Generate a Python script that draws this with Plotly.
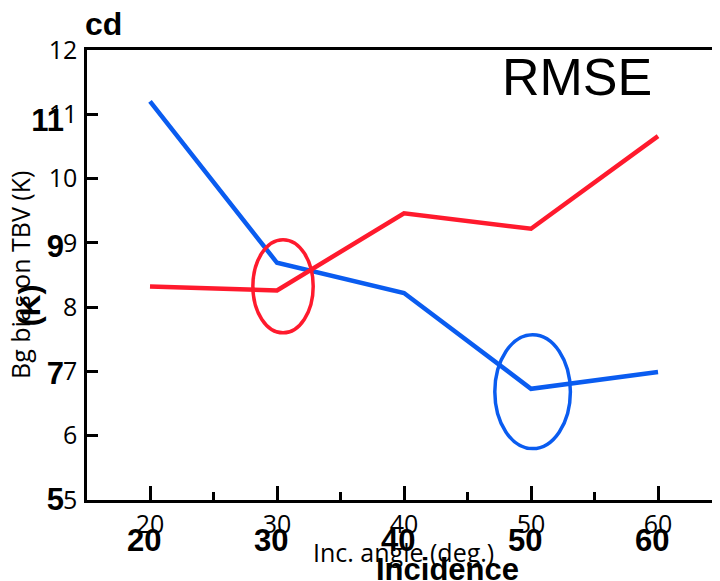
import plotly.graph_objects as go

angles = [20, 30, 40, 50, 60]
blue_vals = [11.2, 8.69, 8.22, 6.73, 6.99]
red_vals = [8.32, 8.26, 9.46, 9.22, 10.66]

y_ticks = [5, 6, 7, 8, 9, 10, 11, 12]
y_bold_ticks = [5, 7, 9, 11]
x_ticks = [20, 30, 40, 50, 60]

# highlight ellipses (data coords): x0, x1, y0, y1
red_ellipse = [28.1, 32.85, 7.6, 9.05]
blue_ellipse = [47.15, 53.1, 5.8, 7.57]

RED = "#ff1a2d"
BLUE = "#0a5cf0"

fig = go.Figure()
fig.add_trace(go.Scatter(x=angles, y=blue_vals, mode="lines",
                         line=dict(color=BLUE, width=4.5), showlegend=False))
fig.add_trace(go.Scatter(x=angles, y=red_vals, mode="lines",
                         line=dict(color=RED, width=4.5), showlegend=False))
# invisible trace to activate the overlay axes
fig.add_trace(go.Scatter(x=[angles[0]], y=[y_ticks[0]], xaxis="x2", yaxis="y2",
                         mode="markers", marker=dict(opacity=0), showlegend=False,
                         hoverinfo="skip"))

for (x0, x1, y0, y1), col in [(red_ellipse, RED), (blue_ellipse, BLUE)]:
    fig.add_shape(type="circle", xref="x", yref="y", x0=x0, x1=x1, y0=y0, y1=y1,
                  line=dict(color=col, width=3.5))

reg_font = dict(family="Open Sans", size=25, color="black")
bold_font = dict(family="Liberation Sans", size=31, color="black", weight="bold")

fig.update_layout(
    width=712, height=573,
    margin=dict(l=79, r=0, t=42, b=81),
    paper_bgcolor="white", plot_bgcolor="white",
    xaxis=dict(range=[15.04, 64.88], tickvals=x_ticks, ticktext=[str(v) for v in x_ticks],
               ticks="inside", ticklen=14, tickwidth=2.5, tickcolor="black",
               minor=dict(dtick=5, tick0=0, ticks="inside", ticklen=8, tickwidth=2.5, tickcolor="black"),
               showline=True, linewidth=2.5, linecolor="black", mirror=True,
               showgrid=False, zeroline=False, tickfont=reg_font, ticklabelstandoff=0),
    xaxis2=dict(range=[15.5, 65.34], overlaying="x", side="bottom",
                tickvals=x_ticks, ticktext=[str(v) for v in x_ticks], ticks="",
                showline=False, showgrid=False, zeroline=False,
                tickfont=bold_font, ticklabelstandoff=19),
    yaxis=dict(range=[5, 12], tickvals=y_ticks, ticktext=[str(v) for v in y_ticks],
               ticks="inside", ticklen=11, tickwidth=2.5, tickcolor="black",
               showline=True, linewidth=2.5, linecolor="black",
               showgrid=False, zeroline=False, tickfont=reg_font, ticklabelstandoff=2),
    yaxis2=dict(range=[4.98, 12.12], overlaying="y", side="left",
                tickvals=y_bold_ticks, ticktext=[str(v) for v in y_bold_ticks], ticks="",
                showline=False, showgrid=False, zeroline=False,
                tickfont=bold_font, ticklabelstandoff=22),
)

fig.add_annotation(text="RMSE", xref="paper", yref="paper", x=0.774, y=0.94,
                   xanchor="center", yanchor="middle", showarrow=False,
                   font=dict(family="Liberation Sans", size=52, color="black"))
fig.add_annotation(text="<b>cd</b>", xref="paper", yref="paper", x=0.0, y=1.0, yshift=26, xshift=-4,
                   xanchor="left", yanchor="middle", showarrow=False,
                   font=dict(family="Liberation Sans", size=32, color="black"))
fig.add_annotation(text="Inc. angle (deg.)", xref="paper", yref="paper", x=0.5, y=0, yshift=-52,
                   xanchor="center", yanchor="middle", showarrow=False, font=reg_font)
fig.add_annotation(text="<b>Incidence</b>", xref="paper", yref="paper", x=0.57, y=0, yshift=-69,
                   xanchor="center", yanchor="middle", showarrow=False,
                   font=dict(family="Liberation Sans", size=31, color="black"))
fig.add_annotation(text="Bg bias on TBV (K)", xref="paper", yref="paper", x=0, xshift=-67, y=0.5,
                   textangle=-90, xanchor="center", yanchor="middle", showarrow=False, font=reg_font)
fig.add_annotation(text="<b>(K)</b>", xref="paper", yref="paper", x=0, xshift=-58, y=0.433,
                   textangle=-90, xanchor="center", yanchor="middle", showarrow=False,
                   font=dict(family="Liberation Sans", size=30, color="black"))

fig.write_html("out.html")
